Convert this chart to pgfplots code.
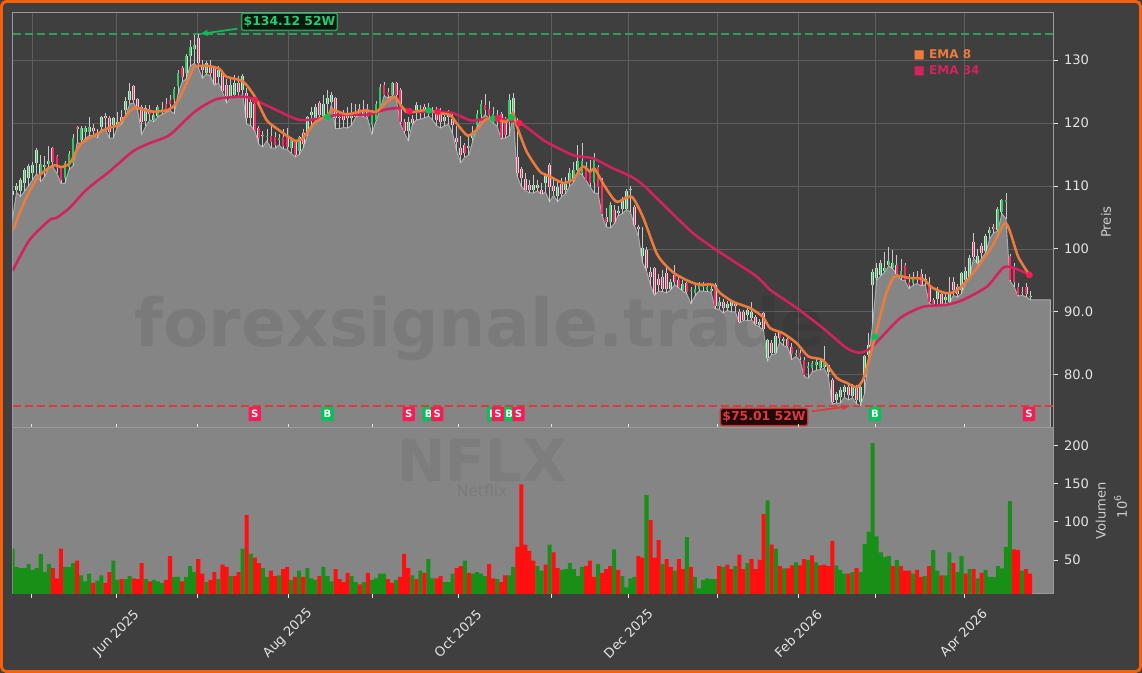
\documentclass[border=0pt]{standalone}
\usepackage{pgfplots}
\usepackage{pgfplotstable}
\usepackage{fontspec}
\usetikzlibrary{arrows.meta}
\setmainfont{DejaVu Sans}
\pgfplotsset{compat=1.18}
\definecolor{bgc}{HTML}{3F3F3F}
\definecolor{areac}{HTML}{858585}
\definecolor{areal}{HTML}{ABABAB}
\definecolor{gridc}{HTML}{5E5E5E}
\definecolor{spinec}{HTML}{9A9A9A}
\definecolor{tickc}{HTML}{E4E4E4}
\definecolor{labc}{HTML}{CFCFCF}
\definecolor{framec}{HTML}{F5610A}
\definecolor{emaA}{HTML}{EE7B3C}
\definecolor{emaB}{HTML}{D4215F}
\definecolor{buyc}{HTML}{00C35A}
\definecolor{sellc}{HTML}{FB1A52}
\definecolor{upc}{HTML}{2FC95F}
\definecolor{dnc}{HTML}{FA2A66}
\definecolor{wickc}{HTML}{C9C9C9}
\definecolor{edgec}{HTML}{DCDCDC}
\definecolor{volg}{HTML}{189018}
\definecolor{volr}{HTML}{FF0F0F}
\definecolor{hig}{HTML}{2F9E5A}
\definecolor{lowc}{HTML}{DD3B3B}
\pgfplotstableread[row sep=\\]{
i up l b t h\\
0 1 104.6 108.5 109.2 109.8\\
1 1 109.0 109.3 110.0 110.5\\
2 1 108.3 109.2 110.9 111.2\\
3 1 109.2 110.4 112.5 112.8\\
4 1 110.0 111.2 113.2 113.5\\
5 1 111.0 112.0 113.3 113.8\\
6 1 112.0 113.6 115.7 116.0\\
7 1 110.7 111.9 113.5 115.0\\
8 1 111.5 113.0 113.3 114.7\\
9 1 113.0 113.5 114.0 116.4\\
10 0 113.0 113.8 116.0 116.2\\
11 0 112.0 112.8 114.8 115.0\\
12 0 110.4 111.0 112.8 113.2\\
13 1 110.4 111.2 113.7 114.0\\
14 1 112.6 113.0 115.1 115.5\\
15 1 113.2 113.6 117.7 118.2\\
16 0 116.8 119.0 119.3 119.6\\
17 1 116.8 117.3 119.2 119.6\\
18 1 117.5 118.6 119.2 119.5\\
19 1 118.0 118.6 119.4 121.0\\
20 0 118.0 118.8 119.2 119.8\\
21 0 117.7 118.1 118.5 119.0\\
22 1 119.0 119.4 121.0 121.2\\
23 0 119.0 120.8 121.1 121.6\\
24 0 117.6 118.6 120.8 121.2\\
25 1 117.6 119.7 120.8 121.0\\
26 1 119.4 119.5 120.1 121.8\\
27 0 119.8 120.0 121.0 122.1\\
28 1 121.0 122.0 123.5 124.2\\
29 1 123.0 123.7 125.1 126.3\\
30 0 123.2 123.7 125.9 126.0\\
31 0 122.0 122.3 123.8 124.0\\
32 0 118.2 120.2 122.6 122.9\\
33 1 119.5 120.4 122.4 122.8\\
34 0 120.5 121.5 122.2 122.8\\
35 1 120.2 120.5 121.3 121.9\\
36 1 121.0 121.1 122.5 122.9\\
37 1 121.4 121.8 122.3 123.4\\
38 0 121.7 122.2 123.0 124.0\\
39 0 122.0 123.0 123.6 124.5\\
40 1 121.5 123.8 125.4 125.8\\
41 1 124.6 125.9 128.0 128.5\\
42 0 126.5 127.4 128.7 129.0\\
43 1 127.0 128.0 130.6 131.0\\
44 1 129.0 130.6 132.1 133.2\\
45 1 129.5 131.8 132.4 134.0\\
46 0 128.8 129.5 133.6 134.12\\
47 0 127.1 128.4 129.2 130.0\\
48 1 127.8 128.0 129.5 129.9\\
49 0 127.5 128.0 129.2 130.0\\
50 0 126.0 126.2 128.7 129.0\\
51 1 126.4 127.4 128.4 129.0\\
52 0 125.0 125.1 127.9 128.2\\
53 0 123.2 124.3 126.0 127.0\\
54 1 124.0 124.2 126.0 127.4\\
55 1 124.2 124.5 126.3 127.6\\
56 0 124.0 125.0 126.3 127.5\\
57 1 124.6 125.2 127.5 127.8\\
58 0 119.8 120.8 124.8 125.5\\
59 1 119.6 120.8 123.4 124.2\\
60 0 118.8 118.9 123.1 124.0\\
61 0 116.6 117.6 119.2 119.6\\
62 1 116.2 117.9 118.1 118.7\\
63 1 117.2 117.9 118.0 119.0\\
64 0 116.0 117.0 118.0 119.5\\
65 0 116.0 116.5 117.8 118.6\\
66 1 116.5 117.3 117.6 118.2\\
67 0 115.9 116.3 117.8 119.0\\
68 0 115.8 116.2 118.0 119.2\\
69 1 115.2 116.0 117.3 117.8\\
70 0 114.6 115.0 117.0 117.1\\
71 1 115.0 115.5 117.8 118.0\\
72 0 116.0 116.7 118.4 119.0\\
73 1 118.0 118.6 121.0 121.2\\
74 1 119.7 121.3 121.8 122.5\\
75 1 120.3 120.8 122.6 123.0\\
76 0 121.0 121.3 123.2 123.5\\
77 1 120.6 121.2 123.0 124.4\\
78 1 120.5 123.0 124.0 125.2\\
79 1 123.0 123.4 124.5 125.0\\
80 0 119.1 120.8 124.0 124.2\\
81 0 119.1 120.8 121.0 121.6\\
82 0 119.3 120.5 121.3 122.0\\
83 0 119.2 120.8 121.5 122.5\\
84 1 119.7 120.8 121.5 123.2\\
85 1 120.9 121.0 121.8 123.0\\
86 0 121.2 121.5 122.3 123.0\\
87 1 121.0 121.3 122.1 123.7\\
88 0 120.6 120.9 122.2 123.0\\
89 1 118.2 119.7 121.5 122.0\\
90 1 120.3 120.5 123.1 123.5\\
91 1 122.0 122.3 125.8 126.2\\
92 0 124.3 124.5 126.1 126.6\\
93 0 124.0 124.5 125.0 125.5\\
94 1 124.3 124.5 126.3 126.6\\
95 0 124.0 124.5 126.3 126.6\\
96 0 119.9 120.2 125.2 125.5\\
97 0 118.5 118.8 120.2 120.6\\
98 1 117.2 118.8 120.2 121.0\\
99 0 119.7 120.0 120.6 121.3\\
100 1 120.5 122.0 122.9 123.3\\
101 1 120.6 121.7 122.1 122.9\\
102 0 120.8 121.8 122.6 123.0\\
103 1 121.1 121.7 122.3 123.2\\
104 1 120.5 121.6 122.0 122.6\\
105 0 119.6 120.5 122.0 122.5\\
106 0 119.2 120.2 121.8 122.4\\
107 1 119.6 120.4 121.0 121.8\\
108 1 119.8 121.0 121.5 122.0\\
109 0 118.3 119.7 120.6 121.5\\
110 0 115.5 117.0 117.6 119.5\\
111 0 113.7 115.0 116.0 118.0\\
112 0 114.6 115.3 116.5 116.9\\
113 1 114.9 116.0 116.4 118.0\\
114 1 117.2 117.7 118.4 119.5\\
115 1 119.4 119.7 121.5 122.0\\
116 1 120.5 121.5 123.1 123.6\\
117 0 121.3 122.0 122.9 124.7\\
118 0 120.8 121.3 122.2 123.5\\
119 1 120.0 120.2 121.5 122.5\\
120 0 119.5 120.2 121.0 122.0\\
121 0 117.5 117.6 121.5 121.8\\
122 0 117.6 118.1 120.5 121.0\\
123 1 118.0 120.5 123.7 124.6\\
124 1 121.0 121.5 124.0 124.8\\
125 0 111.5 112.0 114.6 120.8\\
126 0 109.9 111.3 112.7 113.0\\
127 0 109.3 109.4 111.1 112.0\\
128 0 108.9 109.3 110.1 111.0\\
129 1 108.9 109.3 110.2 111.7\\
130 1 109.2 109.7 110.1 111.0\\
131 0 108.7 108.8 109.4 110.5\\
132 1 109.0 110.4 111.7 112.0\\
133 0 107.5 109.9 113.3 113.6\\
134 0 108.5 109.2 110.0 111.5\\
135 1 107.5 108.4 109.9 111.0\\
136 0 108.3 108.8 110.3 111.2\\
137 1 108.8 109.4 110.3 111.5\\
138 1 110.0 110.8 112.1 112.8\\
139 1 110.6 110.9 112.5 113.8\\
140 1 112.3 112.5 114.0 116.5\\
141 1 111.8 112.0 114.0 116.8\\
142 0 110.9 111.0 113.0 113.8\\
143 0 109.9 110.4 112.5 114.2\\
144 1 108.9 110.4 114.6 115.2\\
145 0 108.8 109.9 113.0 113.3\\
146 0 105.3 105.6 110.9 111.2\\
147 0 103.5 104.3 105.1 106.5\\
148 1 103.3 104.2 107.0 107.5\\
149 0 104.0 104.3 106.2 107.0\\
150 1 105.3 105.7 106.0 106.8\\
151 1 105.6 106.4 107.7 108.2\\
152 1 106.2 106.4 109.2 109.6\\
153 1 105.9 109.3 109.6 110.0\\
154 0 103.7 103.8 106.6 106.9\\
155 0 102.0 103.2 103.5 103.8\\
156 1 97.8 98.8 100.2 103.5\\
157 0 96.5 96.9 99.9 100.3\\
158 0 94.2 95.5 96.4 97.1\\
159 0 92.6 92.8 96.9 97.2\\
160 0 93.3 94.2 95.2 96.0\\
161 0 93.2 93.6 95.6 96.7\\
162 0 93.0 93.6 96.2 97.0\\
163 1 93.5 93.7 94.8 95.2\\
164 0 94.3 94.8 95.9 97.4\\
165 0 93.8 94.0 95.0 95.5\\
166 1 93.3 93.5 94.4 95.0\\
167 0 92.8 93.2 94.5 94.8\\
168 1 91.3 93.3 93.5 94.0\\
169 1 92.5 93.0 93.7 94.3\\
170 1 93.3 93.6 94.4 94.8\\
171 1 93.3 94.0 94.2 94.7\\
172 1 93.2 93.5 93.9 94.3\\
173 1 93.1 93.3 93.7 94.2\\
174 0 90.5 90.9 94.3 94.5\\
175 1 90.4 90.9 91.5 92.3\\
176 0 89.8 90.6 91.5 92.0\\
177 1 90.2 90.6 91.3 91.7\\
178 1 90.0 91.0 91.5 91.9\\
179 0 90.0 91.0 91.3 91.6\\
180 0 88.2 88.4 90.0 90.4\\
181 0 88.6 88.7 90.0 90.3\\
182 1 88.6 89.5 90.3 90.8\\
183 1 88.7 89.0 90.0 91.6\\
184 0 87.9 88.1 89.2 89.5\\
185 1 87.6 87.9 88.4 88.9\\
186 0 86.9 87.2 89.8 90.0\\
187 1 82.2 82.6 85.5 85.7\\
188 0 83.2 83.5 85.1 85.5\\
189 1 83.3 83.5 86.2 86.6\\
190 0 85.2 85.8 86.9 87.0\\
191 1 84.6 85.3 85.6 86.0\\
192 0 84.3 84.6 85.6 86.0\\
193 0 82.4 83.3 84.4 85.0\\
194 1 82.9 83.1 83.5 84.0\\
195 0 82.3 82.8 83.5 84.0\\
196 0 79.8 80.0 82.3 82.8\\
197 1 79.4 81.0 81.4 82.0\\
198 1 80.4 81.0 81.8 82.2\\
199 1 80.7 81.5 82.0 82.6\\
200 1 80.8 81.0 82.1 82.5\\
201 1 81.0 81.3 82.0 84.6\\
202 1 79.7 80.5 81.5 81.6\\
203 0 75.3 75.6 79.2 79.5\\
204 1 75.5 76.0 77.0 77.3\\
205 1 75.5 76.5 77.5 78.1\\
206 1 76.4 77.3 78.1 78.4\\
207 0 76.0 76.8 78.1 78.5\\
208 1 76.3 76.6 78.4 78.6\\
209 0 75.4 76.0 78.1 78.4\\
210 1 75.01 75.7 78.1 78.3\\
211 1 77.0 79.7 82.9 83.1\\
212 1 82.8 83.1 84.7 86.6\\
213 1 88.0 94.3 96.4 96.8\\
214 1 95.0 95.3 97.0 97.8\\
215 1 95.7 95.9 97.7 98.3\\
216 1 96.3 96.5 97.0 99.5\\
217 1 97.3 97.5 98.0 100.3\\
218 1 96.8 97.0 97.8 99.8\\
219 0 96.0 96.0 97.5 99.0\\
220 1 95.1 95.5 96.5 98.4\\
221 0 94.9 95.0 97.4 97.7\\
222 0 93.7 94.3 94.8 96.0\\
223 1 94.2 94.5 95.3 96.4\\
224 0 94.5 95.0 95.6 96.5\\
225 0 94.1 94.2 96.0 96.8\\
226 1 94.3 95.0 95.2 96.0\\
227 0 91.4 91.6 94.3 95.6\\
228 0 90.9 91.2 91.8 92.2\\
229 1 91.0 92.1 93.5 94.0\\
230 0 91.0 91.1 92.9 93.3\\
231 1 91.3 91.9 92.4 93.0\\
232 1 91.4 91.6 93.2 95.5\\
233 0 92.6 93.4 94.7 95.5\\
234 0 92.3 92.9 94.0 94.4\\
235 1 92.9 93.5 96.1 96.4\\
236 1 94.5 95.0 96.5 97.2\\
237 1 95.5 95.6 98.6 99.0\\
238 0 98.5 98.7 101.1 102.5\\
239 1 97.6 97.7 98.8 100.0\\
240 0 98.5 99.4 100.5 100.9\\
241 1 99.4 99.6 102.1 102.4\\
242 1 101.6 102.5 103.0 103.5\\
243 0 102.6 103.1 103.5 104.0\\
244 1 102.8 103.0 106.3 106.6\\
245 1 105.6 105.9 107.8 108.0\\
246 1 104.8 107.4 107.7 108.9\\
247 0 94.9 95.0 98.8 99.2\\
248 0 94.0 94.8 97.3 97.8\\
249 0 92.5 92.7 94.0 94.6\\
250 1 92.6 93.0 93.2 94.0\\
251 0 92.4 92.9 94.0 94.6\\
252 1 91.9 92.3 92.5 93.3\\
257 -1 91.9 91.9 91.9 91.9\\
}\candles
\pgfplotstableread[row sep=\\]{
i u v\\
0 1 65\\1 1 41\\2 1 39.5\\3 1 39.5\\4 1 45\\5 1 37\\6 1 39.5\\7 1 58\\8 1 34\\9 1 45\\
10 0 39.5\\11 0 26\\12 0 65\\13 1 41\\14 1 41\\15 1 46\\16 0 49\\17 1 30\\18 1 22\\19 1 32\\
20 0 20\\21 1 23\\22 1 30\\23 0 20\\24 0 34\\25 1 49\\26 1 24\\27 0 25\\28 1 25\\29 1 29\\
30 0 26\\31 0 25\\32 0 46\\33 1 25\\34 0 22\\35 1 24\\36 1 22\\37 1 20\\38 0 24\\39 0 55\\
40 1 28\\41 1 28\\42 0 22\\43 1 28\\44 1 42\\45 1 34\\46 0 51\\47 0 32\\48 1 21\\49 0 24\\
50 0 34\\51 1 25\\52 0 44\\53 0 41\\54 1 29\\55 0 29\\56 0 34\\57 1 65\\58 0 109\\59 1 58\\
60 0 53\\61 0 46\\62 1 39.5\\63 1 28\\64 0 36\\65 0 29\\66 1 30\\67 0 38\\68 0 41\\69 1 24\\
70 0 28\\71 1 36\\72 0 28\\73 1 39.5\\74 1 26\\75 1 24\\76 0 29\\77 1 41\\78 1 29\\79 1 22\\
80 0 38\\81 0 25\\82 0 21\\83 0 33\\84 1 29\\85 1 21\\86 0 18\\87 1 21\\88 0 33\\89 1 24\\
90 1 26\\91 1 32\\92 1 32\\93 0 25\\94 0 20\\95 1 24\\96 0 28\\97 0 58\\98 0 39.5\\99 1 30\\
100 0 25\\101 1 36\\102 0 33\\103 1 51\\104 1 26\\105 0 26\\106 0 29\\107 1 21\\108 1 21\\109 1 32\\
110 0 39.5\\111 0 42\\112 1 49\\113 0 33\\114 1 32\\115 1 34\\116 1 32\\117 1 29\\118 0 45\\119 0 26\\
120 1 25\\121 0 21\\122 0 30\\123 1 30\\124 1 41\\125 0 67\\126 0 149\\127 0 70\\128 0 62\\129 0 49\\
130 1 42\\131 1 36\\132 0 44\\133 1 70\\134 0 60\\135 0 39.5\\136 1 37\\137 1 38\\138 1 46\\139 1 38\\
140 1 29\\141 1 41\\142 0 42\\143 0 49\\144 0 28\\145 1 45\\146 0 33\\147 0 38\\148 0 42\\149 1 64\\
150 0 37\\151 1 29\\152 1 14\\153 1 26\\154 1 28\\155 0 55\\156 0 53\\157 1 135\\158 0 102\\159 0 53\\
160 0 76\\161 1 45\\162 0 51\\163 0 41\\164 1 36\\165 0 51\\166 0 38\\167 1 80\\168 0 41\\169 1 28\\
170 1 13\\171 1 24\\172 1 26\\173 1 25\\174 1 25\\175 0 42\\176 1 41\\177 0 44\\178 0 38\\179 1 42\\
180 0 57\\181 0 38\\182 1 46\\183 0 51\\184 0 38\\185 0 50\\186 0 110\\187 1 128\\188 0 70\\189 1 65\\
190 0 42\\191 1 39\\192 0 39\\193 0 43\\194 1 47\\195 0 43\\196 0 51\\197 1 50\\198 0 56\\199 1 47\\
200 0 43\\201 0 44\\202 0 42\\203 0 75\\204 1 43\\205 1 37\\206 1 32\\207 0 32\\208 1 34\\209 0 39.5\\
210 1 34\\211 1 71\\212 1 87\\213 1 203\\214 1 81\\215 1 60\\216 1 54\\217 1 55\\218 0 42\\219 1 50\\
220 0 42\\221 0 36\\222 0 36\\223 1 32\\224 0 37\\225 0 28\\226 1 29\\227 0 42\\228 1 63\\229 1 36\\
230 0 30\\231 1 30\\232 1 60\\233 0 46\\234 1 34\\235 1 55\\236 0 32\\237 1 38\\238 0 38\\239 1 26\\
240 0 33\\241 1 37\\242 1 28\\243 1 28\\244 1 42\\245 1 39\\246 1 67\\247 1 127\\248 0 64\\249 0 63\\
250 1 36\\251 0 38\\252 0 32\\
}\vols
\pgfplotstableread[row sep=\\]{
x y\\
0.2 103.0\\1.4 105.1\\3.5 108.3\\4.7 109.7\\6.4 111.5\\8.8 112.8\\10.5 113.3\\12.1 113.0\\14.2 113.6\\15.9 115.7\\
17.5 117.0\\20.4 118.1\\23.7 119.2\\26.2 119.7\\28.7 121.6\\30.3 122.5\\32.4 122.1\\35.3 121.8\\38.6 122.1\\40.2 122.9\\
41.9 124.7\\44.4 128.2\\45.1 129.0\\48.4 129.1\\51.3 128.6\\52.9 127.4\\57.1 126.6\\60.0 124.2\\62.9 120.5\\65.3 119.2\\
69.9 117.2\\71.9 117.6\\74.8 120.0\\78.1 121.3\\79.4 122.1\\82.7 121.4\\87.2 122.0\\90.1 121.8\\92.2 123.1\\94.6 124.2\\
95.9 123.1\\97.5 121.8\\99.6 121.8\\102.8 122.1\\105.3 121.6\\108.3 121.3\\110.3 119.7\\112.7 118.0\\114.9 118.9\\117 120.5\\
119 120.8\\122.3 120.2\\123.9 121.6\\124.8 119.7\\127.3 115.5\\130.6 112.3\\133.1 111.5\\136.3 110.5\\138.8 111.0\\141.2 113.1\\
143 112.3\\144.2 112.7\\146.7 109.9\\149.6 107.5\\153.3 108.3\\156.1 105.1\\159.5 99.3\\162 97.2\\164.4 95.9\\167.7 94.8\\
170.2 94.3\\173.4 94.3\\175.2 93.0\\178.4 91.6\\182.6 90.6\\185.8 89.2\\187.6 87.4\\190.8 86.6\\194.2 85.0\\197.1 82.9\\
200.7 82.3\\204.1 79.5\\206.6 78.7\\209 78.0\\210.6 79.2\\212.3 82.9\\213.6 86.0\\216.1 92.4\\218.1 95.4\\219.8 95.7\\
221.8 95.4\\225.5 95.2\\227.6 93.9\\230.9 93.0\\233.4 93.2\\235.9 94.6\\239.1 97.2\\242.5 100.3\\246 104.1\\249 98.8\\251.8 95.9\\
}\emaeight
\pgfplotstableread[row sep=\\]{
x y\\
0 96.5\\4.2 101.4\\9.2 104.6\\10.8 104.9\\14.1 106.5\\18.3 109.4\\24 112.3\\29.8 115.5\\33.9 116.8\\38.9 118.1\\
45.1 121.8\\50.5 123.8\\57.1 124.2\\60 123.7\\66.2 121.8\\71.1 120.5\\77.3 120.8\\80.2 121.3\\85.2 121.3\\88.5 121.4\\
92.6 122.2\\96.6 122.4\\99.1 121.8\\105 121.8\\109 121.6\\113.7 120.4\\118.9 120.8\\125.6 120\\129.8 118.1\\132.2 117\\
138.8 114.9\\143.7 114.4\\148.7 112.8\\152.9 111.6\\156.1 110.2\\162 106.5\\168.5 102.5\\174.4 99.8\\184.3 95.6\\187.6 93.5\\
194.2 90.6\\200.7 87.4\\206.6 84.2\\209.9 83.5\\212.8 84.4\\219.8 89.0\\225.5 90.8\\231.3 91.1\\235.4 91.9\\241.3 94.0\\
245.3 97.0\\247.8 97.0\\251.8 95.9\\
}\ematf
\pgfplotsset{
  common/.style={
    scale only axis, width=781.1pt,
    xmin=0, xmax=257.9,
    xtick={4.8,25.8,45.9,68.2,89.2,110.3,133.4,152.5,174.5,194.6,213.7,235.7},
    ytick pos=right, yticklabel pos=right,
    axis line style={draw=spinec, line width=0.75pt},
    tick style={draw=tickc, line width=0.6pt},
    tick align=outside, major tick length=3pt,
    y tick label style={font=\fontsize{9.8}{12}\selectfont, text=tickc, xshift=1pt},
  },
  wickplot/.style={draw=none, mark=none, forget plot,
    error bars/.cd, y dir=plus, y explicit, error mark=none,
    error bar style={draw=wickc, line width=0.6pt}},
  bodyplot/.style 2 args={draw=none, mark=none, forget plot,
    error bars/.cd, y dir=plus, y explicit, error mark=none,
    error bar style={draw=#1, line width=#2}},
  sigbox/.style={draw=none, mark=none, forget plot,
    nodes near coords align={center},
    every node near coord/.style={fill=#1, text=white, inner sep=0pt,
      minimum width=9.2pt, minimum height=10.6pt, rounded corners=0.6pt,
      font=\bfseries\fontsize{7.6}{9}\selectfont, anchor=center}},
  sigdot/.style={only marks, mark=*, mark size=2.3pt, forget plot, draw=#1, fill=#1,
    mark options={draw=#1, fill=#1, solid}},
}
\begin{document}
\begin{tikzpicture}[x=1pt,y=1pt]
\path[use as bounding box] (0,0) rectangle (856.5,504.75);
\fill[bgc] (0,0) rectangle (856.5,504.75);
\draw[framec, line width=2.2pt, rounded corners=4pt] (1.0,1.0) rectangle (855.5,503.75);

% ---------- price panel
\begin{axis}[common,
  name=price, at={(9.375pt,183.75pt)}, anchor=south west,
  height=311.25pt,
  ymin=71.53, ymax=137.5,
  ytick={80,90,100,110,120,130},
  yticklabels={80.0,90.0,100,110,120,130},
  xticklabels={},
  x tick style={draw=none},
  grid=major, grid style={draw=gridc, line width=0.55pt},
  every axis y label/.style={at={(axis description cs:1.05,0.496)}, rotate=90, anchor=center,
    text=labc, font=\fontsize{9.8}{12}\selectfont},
  ylabel={Preis},
]
\addplot[fill=areac, draw=areal, line width=0.75pt, forget plot]
  table[x=i, y=l] {\candles} \closedcycle;

\node[text=black, opacity=0.08, font=\bfseries\fontsize{49.7}{55}\selectfont] at (axis cs:115.7,87.4) {forexsignale.trade};

\addplot[hig, dashed, dash pattern=on 6pt off 3pt, line width=1.2pt, forget plot]
  coordinates {(0,134.12) (257.9,134.12)};
\addplot[lowc, dashed, dash pattern=on 6pt off 3pt, line width=1.2pt, forget plot]
  coordinates {(0,75.01) (257.9,75.01)};

% candles
\addplot[wickplot] table[x=i, y=l, y error plus expr={\thisrow{h}-\thisrow{l}}] {\candles};
\addplot[bodyplot={edgec}{2.1pt}] table[x=i, y expr={\thisrow{up}>=0 ? \thisrow{b} : nan}, y error plus expr={\thisrow{t}-\thisrow{b}}] {\candles};
\addplot[bodyplot={upc}{1.1pt}] table[x=i, y expr={\thisrow{up}>0 ? \thisrow{b} : nan}, y error plus expr={\thisrow{t}-\thisrow{b}}] {\candles};
\addplot[bodyplot={dnc}{1.1pt}] table[x=i, y expr={\thisrow{up}==0 ? \thisrow{b} : nan}, y error plus expr={\thisrow{t}-\thisrow{b}}] {\candles};

% moving averages
\addplot[emaB, line width=1.9pt, smooth, tension=0.4, forget plot] table[x=x,y=y] {\ematf};
\addplot[emaA, line width=1.9pt, smooth, tension=0.4, forget plot] table[x=x,y=y] {\emaeight};

% crossings
\addplot[sigdot=buyc] coordinates {(78,121.0) (103.1,122.0) (119.1,120.7) (123.5,120.9) (213.6,86.0)};
\addplot[sigdot=sellc] coordinates {(60,123.67) (98.3,121.9) (105.3,121.8) (120.2,120.76) (125.5,120.0) (251.8,95.85)};

% signal boxes
\addplot[sigbox=buyc, nodes near coords={B}] coordinates {(78,73.75) (103.1,73.75) (119,73.75) (123,73.75) (213.6,73.75)};
\addplot[sigbox=sellc, nodes near coords={S}] coordinates {(60,73.75) (98.1,73.75) (105.2,73.75) (120.2,73.75) (125.3,73.75) (251.7,73.75)};

% 52 week labels
\draw[-{Latex[length=6.5pt,width=5pt]}, buyc!75!hig, line width=1.3pt] (axis cs:55.7,135.0) -- (axis cs:46.2,134.15);
\node[fill=black!85!hig, draw=hig, line width=1.1pt, rounded corners=1.5pt, text=buyc!85!white,
  inner xsep=1.5pt, inner ysep=2.2pt, font=\bfseries\fontsize{9.3}{11}\selectfont]
  at (axis cs:68.6,136.1) {\$134.12 52W};
\draw[-{Latex[length=6.5pt,width=5pt]}, lowc, line width=1.3pt] (axis cs:198,74.2) -- (axis cs:207.6,75.0);
\node[fill=black!85!lowc, draw=lowc!90!black, line width=1.1pt, rounded corners=1.5pt, text=lowc,
  inner xsep=1.5pt, inner ysep=2.2pt, font=\bfseries\fontsize{9.3}{11}\selectfont]
  at (axis cs:186.1,73.28) {\$75.01 52W};

% legend
\node[anchor=west, text=emaA, inner sep=0pt, font=\bfseries\fontsize{9}{11}\selectfont] at (axis cs:223.1,130.85) {■ EMA 8};
\node[anchor=west, text=emaB, inner sep=0pt, font=\bfseries\fontsize{9}{11}\selectfont] at (axis cs:223.1,128.3) {■ EMA 34};
\end{axis}

% ---------- volume panel
\begin{axis}[common,
  name=vol, at={(9.375pt,59.25pt)}, anchor=south west,
  height=124.5pt,
  ymin=5.5, ymax=222.7,
  ytick={50,100,150,200},
  yticklabels={50,100,150,200},
  xticklabels={{},Jun 2025,{},Aug 2025,{},Oct 2025,{},Dec 2025,{},Feb 2026,{},Apr 2026},
  x tick label style={rotate=45, anchor=center, xshift=-18.9pt, yshift=-18.8pt, text=tickc,
    font=\fontsize{9.8}{12}\selectfont},
  axis background/.style={fill=areac},
  every axis y label/.style={at={(axis description cs:1.045,0.5)}, rotate=90, anchor=center,
    text=labc, font=\fontsize{9.8}{12}\selectfont},
  ylabel={Volumen},
  clip mode=individual,
]
\node[text=black, opacity=0.06, font=\bfseries\fontsize{43.5}{50}\selectfont] at (axis cs:116.3,181) {NFLX};
\node[text=black, opacity=0.07, font=\fontsize{11.8}{14}\selectfont] at (axis cs:116.3,140.7) {Netflix};
\addplot[ybar, bar width=1, bar shift=0pt, fill=volg, draw=none, forget plot]
  table[x=i, y expr={\thisrow{u}>0 ? \thisrow{v} : nan}] {\vols};
\addplot[ybar, bar width=1, bar shift=0pt, fill=volr, draw=none, forget plot]
  table[x=i, y expr={\thisrow{u}==0 ? \thisrow{v} : nan}] {\vols};
\node[rotate=90, text=labc, font=\fontsize{9.8}{12}\selectfont] at (axis description cs:1.064,0.524) {10\raisebox{0.45em}{\fontsize{7}{8}\selectfont 6}};
\end{axis}
\end{tikzpicture}
\end{document}
